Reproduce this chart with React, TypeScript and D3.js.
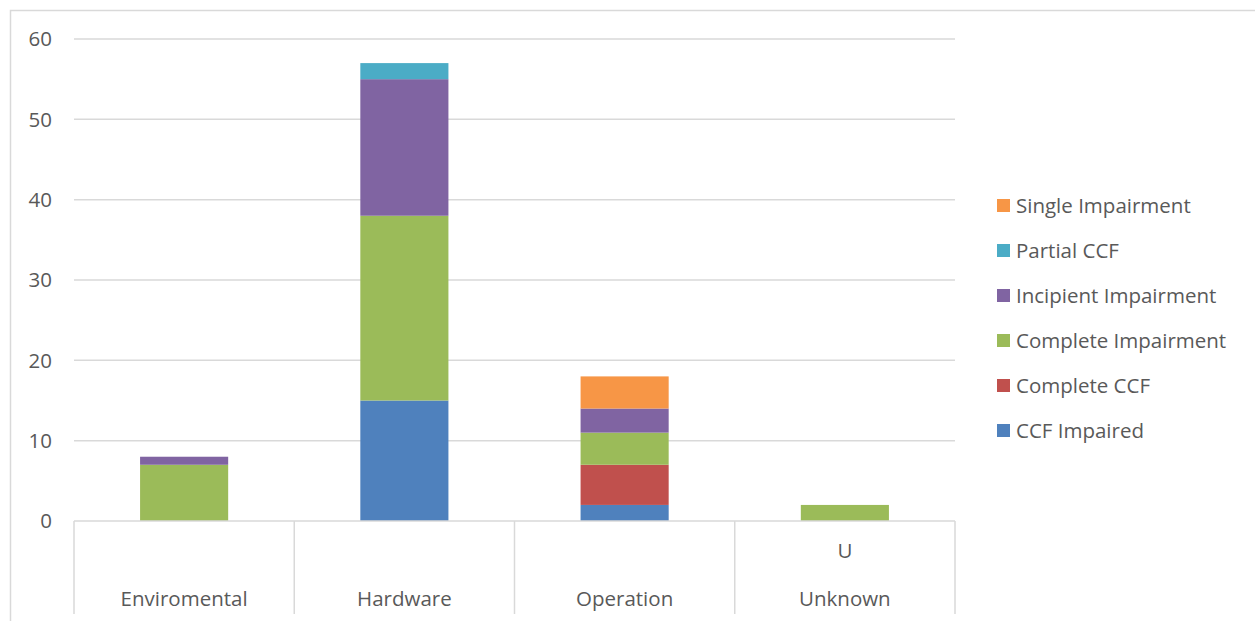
import React from "react";
import * as d3 from "d3";

const categories = ["Enviromental", "Hardware", "Operation", "Unknown"];
const subLabels = ["", "", "", "U"];
const seriesNames = [
  "CCF Impaired",
  "Complete CCF",
  "Complete Impairment",
  "Incipient Impairment",
  "Partial CCF",
  "Single Impairment",
];
const ccfImpaired = [0, 15, 2, 0];
const completeCCF = [0, 0, 5, 0];
const completeImpairment = [7, 23, 4, 2];
const incipientImpairment = [1, 17, 3, 0];
const partialCCF = [0, 2, 0, 0];
const singleImpairment = [0, 0, 4, 0];
const yTicks = [0, 10, 20, 30, 40, 50, 60];
const colors = ["#4F81BD", "#C0504D", "#9BBB59", "#8064A2", "#4BACC6", "#F79646"];

const W = 1255;
const H = 621;
const plot = { left: 74, right: 955, top: 39, bottom: 521 };
const axisBottom = 614;
const font = "'Open Sans', 'Liberation Sans', sans-serif";
const fontSize = 20.5;
const textColor = "#595959";
const gridColor = "#D9D9D9";

export default function App() {
  const values = [ccfImpaired, completeCCF, completeImpairment, incipientImpairment, partialCCF, singleImpairment];
  const rows = categories.map((c, i) => {
    const r: Record<string, number | string> = { category: c };
    seriesNames.forEach((s, j) => (r[s] = values[j][i]));
    return r;
  });
  const stacked = d3.stack<any>().keys(seriesNames)(rows);

  const x = d3.scaleBand<string>().domain(categories).range([plot.left, plot.right]).paddingInner(0.6).paddingOuter(0.3);
  const band = d3.scaleBand<string>().domain(categories).range([plot.left, plot.right]);
  const y = d3.scaleLinear().domain([0, 60]).range([plot.bottom, plot.top]);

  const legendOrder = [...seriesNames].reverse();

  return (
    <svg width={W} height={H} style={{ position: "absolute", left: 0, top: 0, background: "#fff" }}>
      <rect x={10.5} y={10.5} width={W + 10} height={H + 10} fill="none" stroke={gridColor} strokeWidth={1.5} />
      {yTicks.map((t) => (
        <g key={t}>
          {t > 0 && (
            <line x1={plot.left} x2={plot.right} y1={y(t)} y2={y(t)} stroke={gridColor} strokeWidth={1.5} />
          )}
          <text x={52} y={y(t)} dy="0.35em" textAnchor="end" fontFamily={font} fontSize={fontSize} fill={textColor}>
            {t}
          </text>
        </g>
      ))}
      {stacked.map((s, j) =>
        s.map((d, i) =>
          d[1] - d[0] > 0 ? (
            <rect
              key={`${j}-${i}`}
              x={x(categories[i])!}
              width={x.bandwidth()}
              y={y(d[1])}
              height={y(d[0]) - y(d[1])}
              fill={colors[j]}
            />
          ) : null
        )
      )}
      <line x1={plot.left} x2={plot.right} y1={plot.bottom} y2={plot.bottom} stroke={gridColor} strokeWidth={1.5} />
      {[...categories.map((c) => band(c)!), plot.right].map((px, i) => (
        <line key={i} x1={px} x2={px} y1={plot.bottom} y2={axisBottom} stroke={gridColor} strokeWidth={1.5} />
      ))}
      {categories.map((c, i) => (
        <g key={c}>
          <text
            x={band(c)! + band.bandwidth() / 2}
            y={599}
            dy="0.35em"
            textAnchor="middle"
            fontFamily={font}
            fontSize={fontSize}
            fill={textColor}
          >
            {c}
          </text>
          {subLabels[i] && (
            <text
              x={band(c)! + band.bandwidth() / 2}
              y={551}
              dy="0.35em"
              textAnchor="middle"
              fontFamily={font}
              fontSize={fontSize}
              fill={textColor}
            >
              {subLabels[i]}
            </text>
          )}
        </g>
      ))}
      {legendOrder.map((s, k) => {
        const ly = 206 + k * 45;
        return (
          <g key={s}>
            <rect x={997} y={ly - 7} width={13} height={13} fill={colors[seriesNames.indexOf(s)]} />
            <text x={1016} y={ly} dy="0.35em" fontFamily={font} fontSize={fontSize} fill={textColor}>
              {s}
            </text>
          </g>
        );
      })}
    </svg>
  );
}
